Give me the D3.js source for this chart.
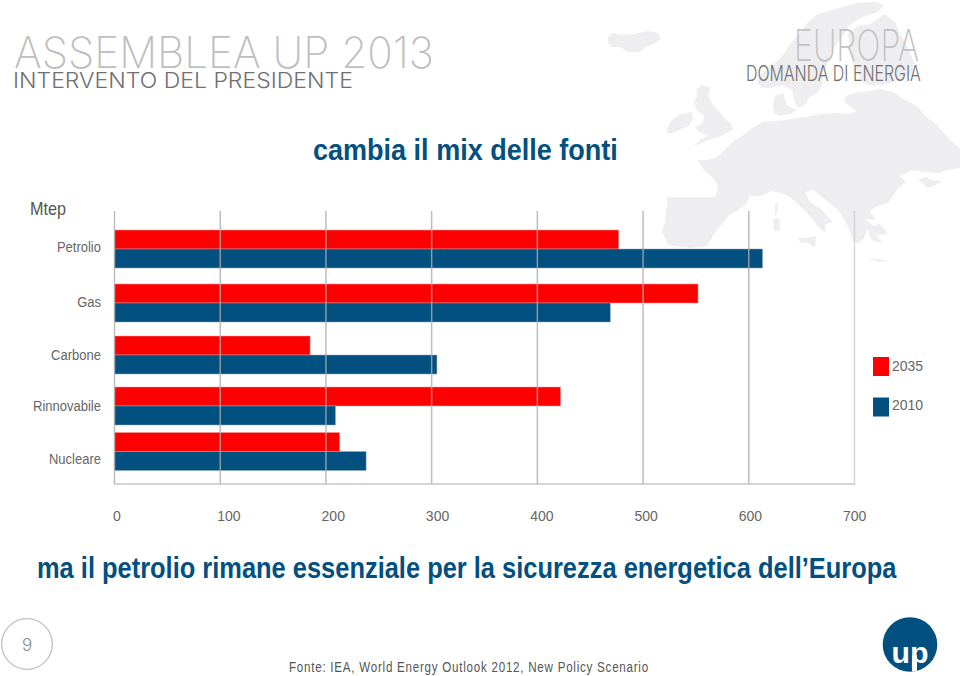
<!DOCTYPE html>
<html><head><meta charset="utf-8">
<script src="https://d3js.org/d3.v7.min.js"></script>
<style>html,body{margin:0;padding:0;background:#fff}svg{display:block}</style>
</head><body><svg id="c" width="960" height="676"></svg>
<script>
const categories = ["Petrolio","Gas","Carbone","Rinnovabile","Nucleare"];
const values2035 = [477,552,185,422,213];
const values2010 = [613,469,305,209,238];
const seriesNames = ["2035","2010"];
const tickValues = [0,100,200,300,400,500,600,700];

const RED="#fe0000", BLUE="#02507f";
const svg=d3.select("#c");
const sans="'Liberation Sans',Arial,sans-serif";
const thin="Inter,'Liberation Sans',sans-serif";

// background map (decorative)
const mapPaths=[
"M608,37L613,33L622,35L634,34L648,31L658,33L661,39L654,44L646,47L640,52L628,52L620,47L612,47L608,43Z",
"M757,83L760,75L772,66L783,55L790,44L800,33L808,22L818,14L835,9L857,3L875,2L884,5L878,12L862,17L850,25L843,36L836,45L830,55L826,66L822,75L822,86L817,93L808,98L806,104L798,108L794,100L792,90L782,85L770,88L762,88Z",
"M848,34L858,26L870,24L885,14L895,22L900,34L908,48L914,62L912,74L900,80L888,84L872,86L862,82L858,72L852,62L850,48Z",
"M697,90L701,85L710,87L708,95L712,104L718,110L724,118L731,124L733,129L725,134L718,137L705,141L693,147L700,140L708,136L698,131L695,127L702,124L704,116L697,110L694,102L697,97Z",
"M666,133L670,122L680,114L692,112L693,119L689,126L681,129L672,133Z",
"M773,103L775,96L783,93L785,100L788,106L797,110L790,114L780,116L774,113Z",
"M697,160L708,160L717,157L727,148L735,140L745,134L752,128L763,122L775,121L790,119L805,117L822,114L835,113L848,114L857,112L850,106L844,102L846,96L854,93L868,91L880,89L893,92L905,100L918,107L925,116L936,124L943,132L950,140L960,148L960,168L948,170L940,173L925,172L912,170L900,176L906,182L898,188L893,196L888,203L875,207L870,212L876,220L866,219L868,228L864,238L858,244L853,240L850,232L846,222L838,210L826,200L813,190L805,192L810,202L822,210L833,222L826,224L825,233L818,226L810,216L797,203L788,196L780,193L772,191L760,196L750,196L745,205L736,211L728,216L722,224L714,234L707,246L690,248L668,245L662,232L665,222L667,204L667,197L690,197L715,197L718,186L713,178L704,170Z",
"M918,180L926,177L932,180L942,181L934,186L926,188L924,184Z",
"M798,238L806,238L816,236L815,247L807,243L800,242Z",
"M775,204L778,203L777,214L775,216Z",
"M773,219L779,218L780,230L774,231Z",
"M868,258L878,259L888,261L878,262Z",
"M866,220L874,226L880,224L888,234L876,235L883,244L872,240L868,232Z"
];
svg.append("g").selectAll("path").data(mapPaths).join("path").attr("d",d=>d).attr("fill","#eeeef0");

// Text helper: horizontally fits a real text to a measured width
function txt(t,x,y,size,fill,family,weight,len,anchor,spacing){
  const e=svg.append("text").text(t).attr("font-size",size).attr("fill",fill)
   .attr("font-family",family).attr("font-weight",weight||400);
  if(spacing) e.style("letter-spacing",spacing+"px");
  if(anchor) e.attr("text-anchor",anchor);
  const k=len? len/e.node().getComputedTextLength():1;
  e.attr("transform",`translate(${x},${y}) scale(${k},1)`);
  return e;
}
txt("ASSEMBLEA UP 2013",14,68,43,"#bebebe",thin,200,420);
txt("INTERVENTO DEL PRESIDENTE",13,88,21,"#707070",thin,300,340);
txt("EUROPA",794,61,43,"#c2c2c2",thin,200,125);
txt("DOMANDA DI ENERGIA",746,81,21,"#707070",thin,300,175);
txt("cambia il mix delle fonti",313,160,29,BLUE,sans,700,305);
txt("Mtep",30,215,18.5,"#555",sans,400,36);

// Scales
const x=d3.scaleLinear().domain([0,700]).range([114.5,854.5]);
const tickLabelX=d3.scaleLinear().domain([0,700]).range([113,843]);
const groupCenter=d3.scaleOrdinal().domain(categories).range([249,303,355,406,451.5]);
const labelY=d3.scaleOrdinal().domain(categories).range([251.5,306.5,359.5,411,464]);
const barH=19;

// Bars
const rows=categories.map((c,i)=>({c,a:values2035[i],b:values2010[i]}));
const bars=svg.append("g");
bars.selectAll("rect.a").data(rows).join("rect").attr("class","a")
 .attr("x",x(0)).attr("y",d=>groupCenter(d.c)-barH).attr("width",d=>x(d.a)-x(0)).attr("height",barH)
 .attr("fill",RED).attr("stroke","#f0a0a0").attr("stroke-width",.5);
bars.selectAll("rect.b").data(rows).join("rect").attr("class","b")
 .attr("x",x(0)).attr("y",d=>groupCenter(d.c)).attr("width",d=>x(d.b)-x(0)).attr("height",barH)
 .attr("fill",BLUE).attr("stroke","#8fa9bd").attr("stroke-width",.5);

// Grid + baseline
const grid=svg.append("g");
grid.selectAll("line").data(tickValues).join("line")
 .attr("x1",d=>x(d)).attr("x2",d=>x(d)).attr("y1",211).attr("y2",484)
 .attr("stroke",d=>d===700?"#cccccc":"#adadad").attr("stroke-width",1.5).attr("stroke-opacity",.8);
grid.append("line").attr("x1",x(0)-.7).attr("x2",x(700)+.7).attr("y1",484).attr("y2",484)
 .attr("stroke","#c6c6c6").attr("stroke-width",1.5);

// Labels
categories.forEach(c=>{
  const e=txt(c,101,labelY(c),15.5,"#666",sans,400,null,"end");
  e.attr("transform",`translate(101,${labelY(c)}) scale(0.84,1)`);
});
svg.append("g").selectAll("text").data(tickValues).join("text").text(d=>d)
 .attr("x",d=>tickLabelX(d)).attr("y",521).attr("font-size",14).attr("fill","#666").attr("font-family",sans);

// Legend
const legY=d3.scaleOrdinal().domain(seriesNames).range([357,397.5]);
const legTextY=d3.scaleOrdinal().domain(seriesNames).range([370.5,410]);
const legC=d3.scaleOrdinal().domain(seriesNames).range([RED,BLUE]);
const leg=svg.append("g");
leg.selectAll("rect").data(seriesNames).join("rect").attr("x",873).attr("y",d=>legY(d)).attr("width",16).attr("height",19).attr("fill",d=>legC(d));
leg.selectAll("text").data(seriesNames).join("text").text(d=>d).attr("x",892).attr("y",d=>legTextY(d))
 .attr("font-size",14).attr("fill","#666").attr("font-family",sans);

// Bottom
txt("ma il petrolio rimane essenziale per la sicurezza energetica dell\u2019Europa",37,578,29,BLUE,sans,700,860);
txt("Fonte: IEA, World Energy Outlook 2012, New Policy Scenario",289,672,15.5,"#555",sans,400,360,null,1);

// Page number
svg.append("circle").attr("cx",27).attr("cy",644).attr("r",25.3).attr("fill","#fff").attr("stroke","#c0c0c0").attr("stroke-width",1.3);
txt("9",27,651,17,"#8a8a8a",thin,300,null,"middle");

// Logo
const clip=svg.append("clipPath").attr("id","lg");
clip.append("circle").attr("cx",910).attr("cy",644.5).attr("r",27.3);
svg.append("circle").attr("cx",910).attr("cy",644.5).attr("r",27.3).attr("fill",BLUE);
svg.append("rect").attr("clip-path","url(#lg)").attr("x",912).attr("y",655).attr("width",5).attr("height",20).attr("fill","#fff");
txt("up",891.5,663,29,"#fff",sans,700,37);
</script></body></html>
